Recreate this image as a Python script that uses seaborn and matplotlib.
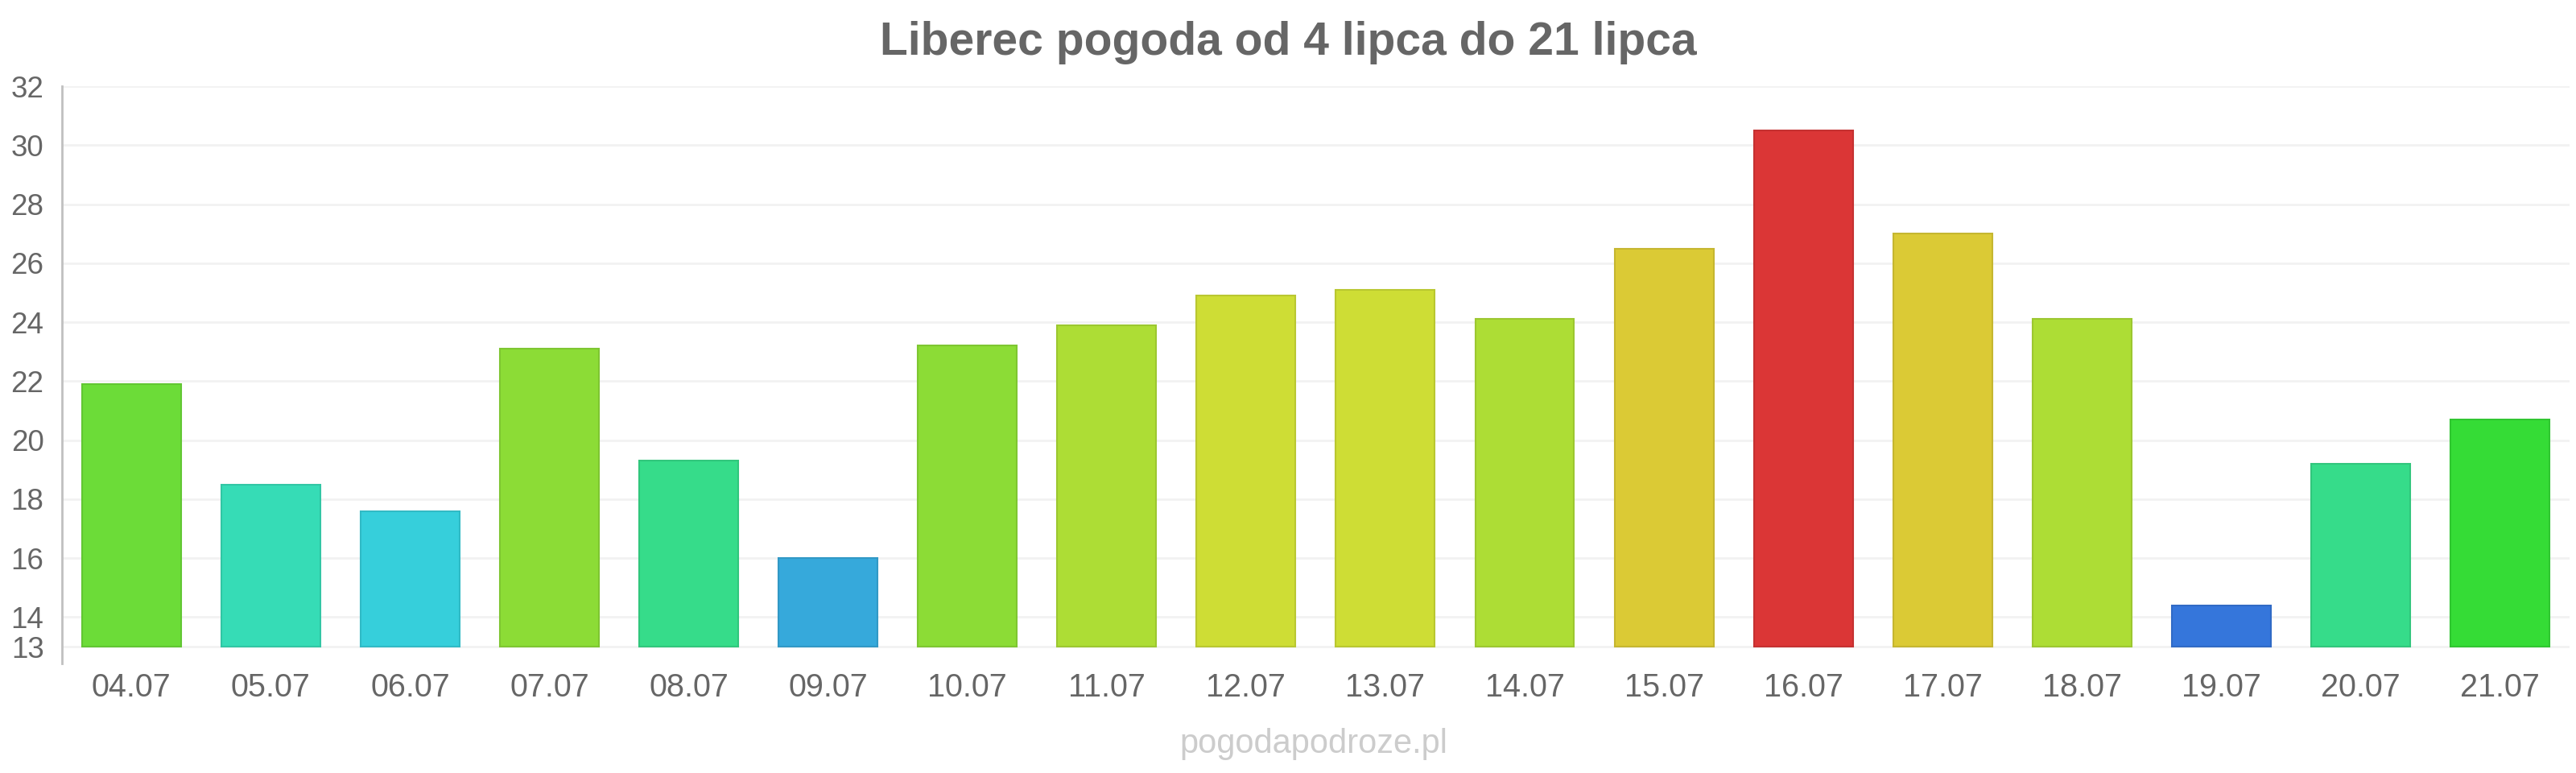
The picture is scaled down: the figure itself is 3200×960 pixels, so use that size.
import numpy as np
import matplotlib
matplotlib.use("Agg")
import matplotlib.pyplot as plt
import seaborn as sns

# data
dates = ["04.07", "05.07", "06.07", "07.07", "08.07", "09.07", "10.07", "11.07", "12.07",
         "13.07", "14.07", "15.07", "16.07", "17.07", "18.07", "19.07", "20.07", "21.07"]
temps = [21.9, 18.5, 17.6, 23.1, 19.3, 16.0, 23.2, 23.9, 24.9,
         25.1, 24.1, 26.5, 30.5, 27.0, 24.1, 14.4, 19.2, 20.7]
colors = ["#6cdc38", "#36dcb6", "#36cfdb", "#8cdc36", "#36dc8a", "#36a9db", "#8cdc36", "#addd35", "#cedd35",
          "#cedd35", "#addd35", "#dbca35", "#db3636", "#dbca35", "#addd35", "#3576db", "#36dc8a", "#35dc36"]
yticks = [13, 14, 16, 18, 20, 22, 24, 26, 28, 30, 32]
base = 13

sns.set_theme(style="white")
plt.rcParams["font.family"] = ["Liberation Sans", "DejaVu Sans"]

fig = plt.figure(figsize=(32, 9.6), dpi=100)
ax = fig.add_axes([0.024, 0.1417, 0.9735, 0.7468])

heights = np.array(temps) - base
sns.barplot(x=dates, y=heights, hue=dates, palette=colors, legend=False, saturation=1,
            width=0.71, bottom=base, errorbar=None, ax=ax, zorder=3)

# darker outline like the original
for patch, c in zip(ax.patches, colors):
    rgb = np.array(matplotlib.colors.to_rgb(c)) * 0.9
    patch.set_edgecolor(rgb)
    patch.set_linewidth(1.5)

ax.set_ylim(12.43, 32)
ax.set_xlim(-0.5, len(dates) - 0.5)
ax.set_yticks(yticks)
ax.set_yticklabels([str(t) for t in yticks])
ax.yaxis.grid(True, color="#f2f2f2", linewidth=2, zorder=0)
ax.set_axisbelow(True)

for s in ["top", "right", "bottom"]:
    ax.spines[s].set_visible(False)
ax.spines["left"].set_color("#c0c0c0")
ax.spines["left"].set_linewidth(2)

ax.tick_params(axis="y", length=14, width=2, color="#f2f2f2", pad=2,
               labelsize=26.5, labelcolor="#666666")
ax.tick_params(axis="x", length=0, pad=8, labelsize=28.5, labelcolor="#666666")
ax.set_xlabel("")
ax.set_ylabel("")

fig.text(0.5, 0.945, "Liberec pogoda od 4 lipca do 21 lipca", ha="center", va="center",
         fontsize=41, fontweight="bold", color="#666666")
fig.text(0.51, 0.0375, "pogodapodroze.pl", ha="center", va="center",
         fontsize=30, color="#cccccc")

fig.savefig("out.png", dpi=100, facecolor="white")
